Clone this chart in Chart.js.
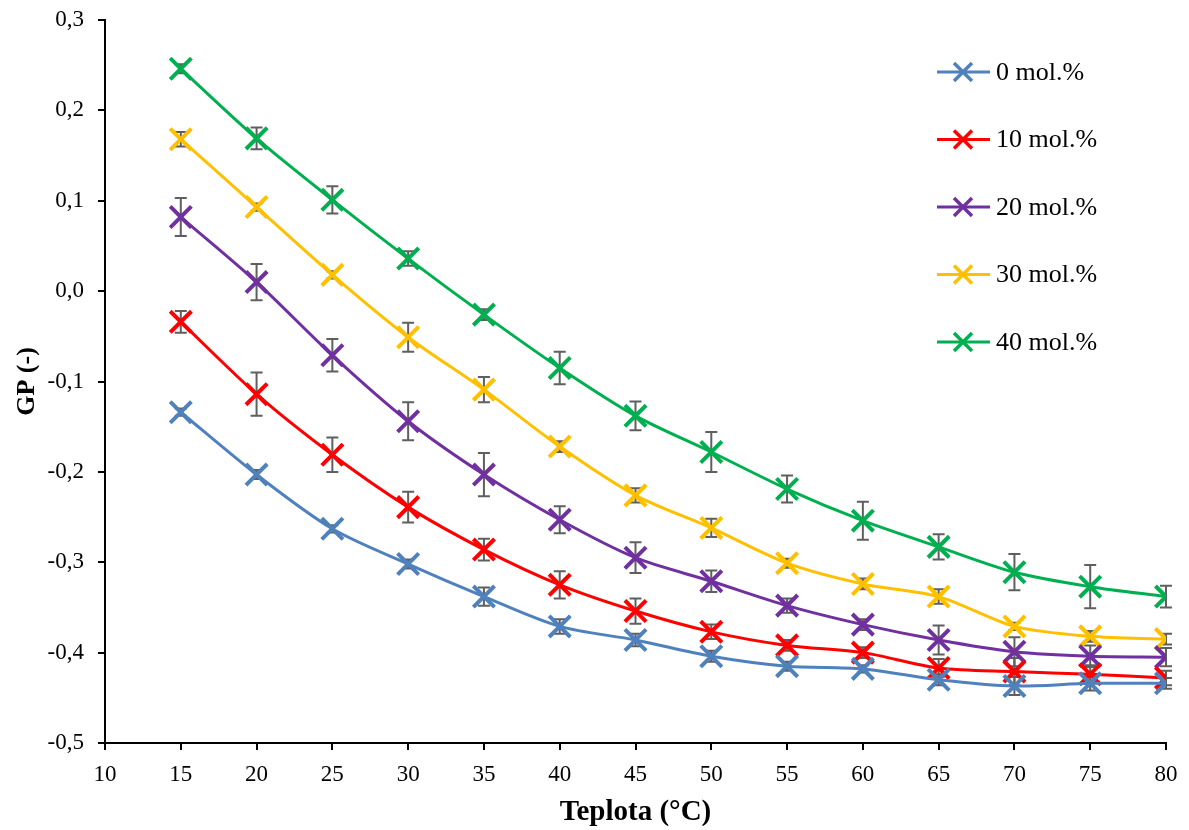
<!DOCTYPE html>
<html>
<head>
<meta charset="utf-8">
<script src="https://cdn.jsdelivr.net/npm/chart.js@4"></script>
<style>
  html, body { margin: 0; padding: 0; background: #fff; }
  #wrap { width: 1189px; height: 830px; }
</style>
</head>
<body>
<div id="wrap"><canvas id="gpChart" width="1189" height="830"></canvas></div>
<script>
// temperature (°C)
const temps = [15, 20, 25, 30, 35, 40, 45, 50, 55, 60, 65, 70, 75, 80];

const labels = ['0 mol.%', '10 mol.%', '20 mol.%', '30 mol.%', '40 mol.%'];
const colors = ['#4F81BD', '#FF0000', '#7030A0', '#FFC000', '#00B050'];

// GP values
const gp0  = [-0.134, -0.203, -0.263, -0.302, -0.338, -0.371, -0.386, -0.404, -0.415, -0.418, -0.430, -0.437, -0.434, -0.434];
const gp10 = [-0.034, -0.114, -0.181, -0.239, -0.286, -0.325, -0.354, -0.377, -0.392, -0.400, -0.417, -0.421, -0.424, -0.428];
const gp20 = [0.082, 0.010, -0.071, -0.144, -0.203, -0.253, -0.295, -0.321, -0.348, -0.369, -0.386, -0.399, -0.404, -0.405];
const gp30 = [0.168, 0.093, 0.018, -0.051, -0.109, -0.172, -0.226, -0.262, -0.301, -0.324, -0.338, -0.371, -0.382, -0.385];
const gp40 = [0.246, 0.169, 0.101, 0.036, -0.026, -0.085, -0.138, -0.178, -0.219, -0.254, -0.283, -0.311, -0.327, -0.338];

// standard deviations
const err0  = [0.004, 0.005, 0.004, 0.005, 0.010, 0.008, 0.007, 0.006, 0.005, 0.004, 0.006, 0.010, 0.008, 0.006];
const err10 = [0.012, 0.024, 0.019, 0.017, 0.012, 0.015, 0.014, 0.008, 0.006, 0.006, 0.010, 0.015, 0.010, 0.008];
const err20 = [0.021, 0.020, 0.018, 0.021, 0.024, 0.015, 0.017, 0.012, 0.008, 0.006, 0.016, 0.016, 0.012, 0.010];
const err30 = [0.008, 0.004, 0.004, 0.016, 0.014, 0.006, 0.008, 0.010, 0.005, 0.006, 0.008, 0.004, 0.006, 0.006];
const err40 = [0.005, 0.012, 0.015, 0.008, 0.006, 0.018, 0.016, 0.022, 0.015, 0.021, 0.014, 0.020, 0.024, 0.012];

const values = [gp0, gp10, gp20, gp30, gp40];
const errors = [err0, err10, err20, err30, err40];

const serif = "'Liberation Serif', 'DejaVu Serif', serif";

const datasets = values.map((vals, i) => ({
  label: labels[i],
  data: temps.map((t, j) => ({ x: t, y: vals[j] })),
  err: errors[i],
  borderColor: colors[i],
  backgroundColor: colors[i],
  borderWidth: 3,
  pointStyle: 'crossRot',
  pointRadius: 15,
  pointBorderWidth: 4,
  pointHoverRadius: 15,
  tension: 0.3,
  fill: false
}));

// error bars, drawn behind the lines
const errorBars = {
  id: 'errorBars',
  beforeDatasetsDraw(chart) {
    const ctx = chart.ctx;
    const xs = chart.scales.x, ys = chart.scales.y;
    ctx.save();
    ctx.strokeStyle = '#5f5f5f';
    ctx.lineWidth = 2;
    chart.data.datasets.forEach(ds => {
      ds.data.forEach((p, j) => {
        const e = ds.err[j];
        const px = xs.getPixelForValue(p.x);
        const top = ys.getPixelForValue(p.y + e);
        const bot = ys.getPixelForValue(p.y - e);
        ctx.beginPath();
        ctx.moveTo(px, top); ctx.lineTo(px, bot);
        ctx.moveTo(px - 6, top); ctx.lineTo(px + 6, top);
        ctx.moveTo(px - 6, bot); ctx.lineTo(px + 6, bot);
        ctx.stroke();
      });
    });
    ctx.restore();
  }
};

// legend inside the plot, top right
const innerLegend = {
  id: 'innerLegend',
  afterDraw(chart) {
    const ctx = chart.ctx;
    ctx.save();
    ctx.font = '26px ' + serif;
    ctx.textBaseline = 'middle';
    chart.data.datasets.forEach((ds, i) => {
      const y = 72 + i * 67.5;
      ctx.strokeStyle = ds.borderColor;
      ctx.lineWidth = 3;
      ctx.beginPath();
      ctx.moveTo(937, y); ctx.lineTo(990, y);
      ctx.stroke();
      ctx.lineWidth = 3.5;
      const r = 9;
      ctx.beginPath();
      ctx.moveTo(963 - r, y - r); ctx.lineTo(963 + r, y + r);
      ctx.moveTo(963 - r, y + r); ctx.lineTo(963 + r, y - r);
      ctx.stroke();
      ctx.fillStyle = '#000';
      ctx.fillText(ds.label, 996, y + 1);
    });
    ctx.restore();
  }
};

new Chart(document.getElementById('gpChart'), {
  type: 'line',
  data: { datasets: datasets },
  plugins: [errorBars, innerLegend],
  options: {
    responsive: false,
    animation: false,
    layout: { padding: { top: 20, right: 23, left: 8, bottom: 0 } },
    plugins: {
      legend: { display: false },
      tooltip: { enabled: false }
    },
    scales: {
      x: {
        type: 'linear',
        min: 10, max: 80,
        afterFit(s) { s.height = 87; },
        border: { color: '#000', width: 2 },
        grid: { drawOnChartArea: false, drawTicks: true, tickLength: 7, color: '#000', lineWidth: 2 },
        ticks: { stepSize: 5, color: '#000', font: { family: serif, size: 23 }, padding: 11 },
        title: { display: true, text: 'Teplota (°C)', color: '#000', font: { family: serif, size: 29, weight: 'bold' }, padding: { top: 8, bottom: 0 } }
      },
      y: {
        min: -0.5, max: 0.3,
        afterFit(s) { s.width = 97; s.paddingTop = 0; s.paddingBottom = 0; },
        border: { color: '#000', width: 2 },
        grid: { drawOnChartArea: false, drawTicks: true, tickLength: 7, color: '#000', lineWidth: 2 },
        ticks: {
          stepSize: 0.1,
          color: '#000',
          font: { family: serif, size: 23 },
          padding: 14,
          callback: v => v.toFixed(1).replace('.', ',')
        },
        title: { display: true, text: 'GP (-)', color: '#000', font: { family: serif, size: 26, weight: 'bold' }, padding: { bottom: 0 } }
      }
    }
  }
});
</script>
</body>
</html>
